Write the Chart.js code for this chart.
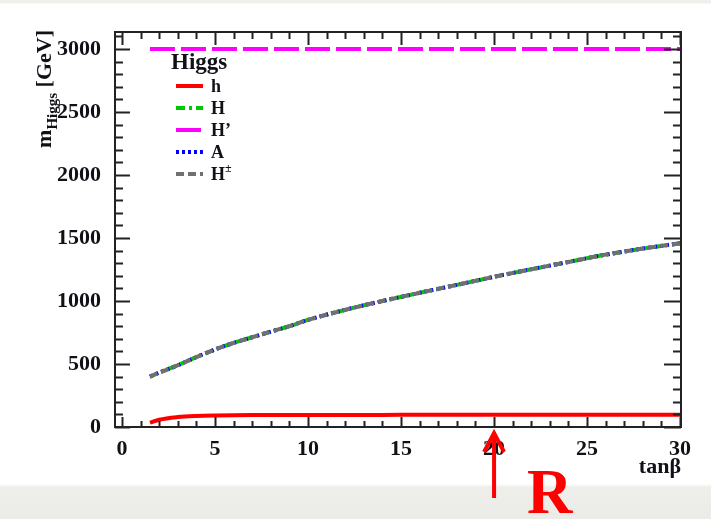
<!DOCTYPE html>
<html>
<head>
<meta charset="utf-8">
<script src="https://cdn.jsdelivr.net/npm/chart.js@4.4.1/dist/chart.umd.min.js"></script>
<style>
  html, body { margin: 0; padding: 0; }
  body {
    width: 711px; height: 519px; overflow: hidden;
    background: linear-gradient(to bottom, #efefeb 0, #efefeb 3px, #ffffff 4px, #ffffff 484px, #eeeeea 487px, #ebebe7 519px);
  }
  #wrap { position: relative; width: 711px; height: 519px; }
</style>
</head>
<body>
<div id="wrap"><canvas id="myChart" width="711" height="519"></canvas></div>
<script>
// tan(beta) scan points
var tanBeta = [1.5, 2, 3, 4, 5, 6, 7, 8, 9, 10, 12, 14, 16, 18, 20, 22, 24, 26, 28, 30];
// Higgs masses [GeV]
var mh      = [34, 58, 79, 88, 92, 94, 95, 95, 96, 96, 96, 96, 97, 97, 97, 97, 97, 97, 97, 97];
var mH      = [400, 432, 490, 555, 615, 668, 712, 757, 800, 850, 930, 1000, 1065, 1128, 1192, 1252, 1310, 1368, 1416, 1458];
var mHprime = [3000, 3000, 3000, 3000, 3000, 3000, 3000, 3000, 3000, 3000, 3000, 3000, 3000, 3000, 3000, 3000, 3000, 3000, 3000, 3000];
var mA      = [400, 432, 490, 555, 615, 668, 712, 757, 800, 850, 930, 1000, 1065, 1128, 1192, 1252, 1310, 1368, 1416, 1458];
var mHpm    = [400, 432, 490, 555, 615, 668, 712, 757, 800, 850, 930, 1000, 1065, 1128, 1192, 1252, 1310, 1368, 1416, 1458];

var xTicks = [0, 5, 10, 15, 20, 25, 30];
var yTicks = [0, 500, 1000, 1500, 2000, 2500, 3000];

var serif = "'Liberation Serif', 'Times New Roman', serif";
var ink = '#111118';

function pts(ys) {
  return tanBeta.map(function (x, i) { return { x: x, y: ys[i] }; });
}

var legendItems = [
  { label: 'h',  color: '#ff0000', dash: [] },
  { label: 'H',  color: '#00c800', dash: [9, 4, 3, 4] },
  { label: 'H\u2019', color: '#ff00ff', dash: [25, 6] },
  { label: 'A',  color: '#0000ff', dash: [3, 3] },
  { label: 'H',  sup: '\u00b1', color: '#707070', dash: [8, 4] }
];

// ROOT-like frame: inward ticks on all four sides, titles, legend box
var rootFrame = {
  id: 'rootFrame',
  afterDraw: function (chart) {
    var ctx = chart.ctx, a = chart.chartArea;
    var xs = chart.scales.x, ys = chart.scales.y;
    ctx.save();
    ctx.strokeStyle = '#222';
    ctx.lineWidth = 2;
    ctx.strokeRect(a.left, a.top, a.right - a.left, a.bottom - a.top);

    ctx.beginPath();
    for (var v = 0; v <= 30; v++) {
      var px = Math.round(xs.getPixelForValue(v)) + 0.5;
      var major = v % 5 === 0;
      ctx.moveTo(px, a.bottom); ctx.lineTo(px, a.bottom - (major ? 10 : 6));
      ctx.moveTo(px, a.top); ctx.lineTo(px, a.top + (major ? 13 : 7));
    }
    for (var w = 0; w <= 3100; w += 100) {
      var py = Math.round(ys.getPixelForValue(w)) + 0.5;
      var maj = w % 500 === 0;
      ctx.moveTo(a.left, py); ctx.lineTo(a.left + (maj ? 15 : 8), py);
      ctx.moveTo(a.right, py); ctx.lineTo(a.right - (maj ? 17 : 8), py);
    }
    ctx.stroke();

    // axis titles
    ctx.fillStyle = ink;
    ctx.textAlign = 'right';
    ctx.textBaseline = 'alphabetic';
    ctx.font = 'bold 22px ' + serif;
    ctx.fillText('tan\u03b2', 681, 473);

    var big = 'bold 22px ' + serif, small = 'bold 15px ' + serif;
    ctx.font = big;
    var wm = ctx.measureText('m').width, wg = ctx.measureText(' [GeV]').width;
    ctx.font = small;
    var wsub = ctx.measureText('Higgs').width;
    ctx.save();
    ctx.translate(51, 30 + wm + wsub + wg);
    ctx.rotate(-Math.PI / 2);
    ctx.textAlign = 'left';
    ctx.font = big; ctx.fillText('m', 0, 0);
    ctx.font = small; ctx.fillText('Higgs', wm, 6);
    ctx.font = big; ctx.fillText(' [GeV]', wm + wsub, 0);
    ctx.restore();

    // legend
    ctx.textAlign = 'left';
    ctx.textBaseline = 'middle';
    ctx.font = 'bold 23px ' + serif;
    ctx.fillText('Higgs', 171, 63);
    legendItems.forEach(function (it, i) {
      var y = 86 + i * 22;
      ctx.save();
      ctx.strokeStyle = it.color;
      ctx.lineWidth = 4;
      ctx.setLineDash(it.dash);
      ctx.beginPath(); ctx.moveTo(176, y); ctx.lineTo(203, y); ctx.stroke();
      ctx.restore();
      ctx.font = 'bold 18px ' + serif;
      ctx.fillText(it.label, 211, y + 1);
      if (it.sup) {
        var lw = ctx.measureText(it.label).width;
        ctx.font = 'bold 12px ' + serif;
        ctx.fillText(it.sup, 211 + lw, y - 5);
      }
    });

    // marker arrow and letter below the axis
    ctx.strokeStyle = '#ff0000';
    ctx.fillStyle = '#ff0000';
    ctx.lineWidth = 4;
    ctx.lineCap = 'butt';
    var ax = xs.getPixelForValue(20);
    ctx.beginPath();
    ctx.moveTo(ax, 498); ctx.lineTo(ax, 434);
    ctx.moveTo(ax - 10, 452); ctx.lineTo(ax, 433); ctx.lineTo(ax + 10, 452);
    ctx.stroke();
    ctx.font = 'bold 63px ' + serif;
    ctx.textBaseline = 'alphabetic';
    ctx.fillText('R', 527, 513);
    ctx.restore();
  }
};

function plain(v) { return String(v); }

var ctx = document.getElementById('myChart').getContext('2d');
var myChart = new Chart(ctx, {
  type: 'line',
  data: {
    datasets: [
      { label: 'h', data: pts(mh), borderColor: '#ff0000', borderWidth: 4 },
      { label: 'H\u00b1', data: pts(mHpm), borderColor: '#707070', borderWidth: 4, borderDash: [8, 4] },
      { label: 'A', data: pts(mA), borderColor: '#0000ff', borderWidth: 4, borderDash: [3, 3] },
      { label: 'H', data: pts(mH), borderColor: '#00c800', borderWidth: 4, borderDash: [9, 4, 3, 4] },
      { label: 'H\u2019', data: pts(mHprime), borderColor: '#ff00ff', borderWidth: 4, borderDash: [25, 6] }
    ]
  },
  options: {
    responsive: false,
    animation: false,
    devicePixelRatio: 1,
    layout: { padding: { top: 32, right: 30, left: 0, bottom: 0 } },
    elements: {
      point: { radius: 0 },
      line: { cubicInterpolationMode: 'monotone', fill: false }
    },
    plugins: { legend: { display: false }, tooltip: { enabled: false } },
    scales: {
      x: {
        type: 'linear',
        min: -0.38,
        max: 30.05,
        afterFit: function (s) { s.height = 92; },
        afterBuildTicks: function (s) { s.ticks = xTicks.map(function (v) { return { value: v }; }); },
        grid: { display: false },
        border: { display: false },
        ticks: { color: ink, padding: 1, maxRotation: 0, autoSkip: false, callback: plain, font: { family: serif, weight: 'bold', size: 22 } }
      },
      y: {
        type: 'linear',
        min: 0,
        max: 3135,
        afterFit: function (s) { s.width = 115; },
        afterBuildTicks: function (s) { s.ticks = yTicks.map(function (v) { return { value: v }; }); },
        grid: { display: false },
        border: { display: false },
        ticks: { color: ink, padding: 6, autoSkip: false, callback: plain, font: { family: serif, weight: 'bold', size: 22 } }
      }
    }
  },
  plugins: [rootFrame]
});
</script>
</body>
</html>
